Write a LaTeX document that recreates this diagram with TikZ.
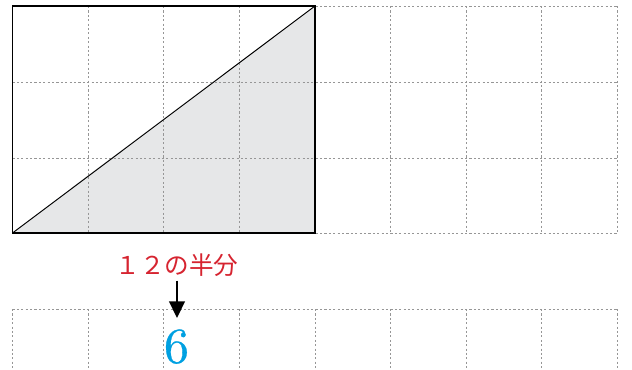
\documentclass[tikz,border=0pt]{standalone}
\usepackage{fontspec}
\newfontfamily\jpfont{Noto Sans CJK JP}
\newfontfamily\answerfont[FakeBold=0.6]{lmroman10-regular.otf}
\usepackage{tikz}
\usetikzlibrary{arrows.meta, positioning, calc}
\usepackage{xcolor}
\definecolor{gridgray}{RGB}{150,150,150}
\definecolor{halffill}{RGB}{230,231,232}
\definecolor{labelred}{RGB}{214,36,48}
\definecolor{answerblue}{RGB}{0,160,225}

\tikzset{
  gridline/.style={gridgray, line width=1pt, dash pattern=on 2.4pt off 2.6pt},
  outline/.style={black, line width=1.4pt},
}

\begin{document}
\begin{tikzpicture}[x=0.04cm, y=-0.04cm]
  \useasboundingbox (0,0) rectangle (632,369);

  % shaded half of the rectangle
  \fill[halffill] (12.5,233) -- (315,6) -- (315,233) -- cycle;

  % upper grid
  \foreach \y in {6,82,158,233}
    \draw[gridline] (12.5,\y) -- (617,\y);
  \foreach \x in {12.5,88,163.5,239,315,390.5,466,541.5,617}
    \draw[gridline] (\x,6) -- (\x,233);

  % rectangle and diagonal
  \draw[outline] (12.5,6) rectangle (315,233);
  \draw[black, line width=1.1pt] (12.5,233) -- (315,6);

  % lower grid
  \draw[gridline] (12.5,309) -- (617,309);
  \foreach \x in {12.5,88,163.5,239,315,390.5,466,541.5,617}
    \draw[gridline] (\x,309) -- (\x,369);

  % label and answer
  \node[labelred, inner sep=0pt] (half) at (177,265)
    {\jpfont\fontsize{28}{30}\selectfont １２の半分};
  \node[answerblue, inner sep=0pt, anchor=south] (six) at (176.5,364)
    {\answerfont\fontsize{57}{60}\selectfont 6};
  \draw[-{Triangle[width=18pt, length=19pt]}, line width=2pt]
    (half.south) ++(0,4) coordinate (from) (from) -- (from |- 0,318);
\end{tikzpicture}
\end{document}
